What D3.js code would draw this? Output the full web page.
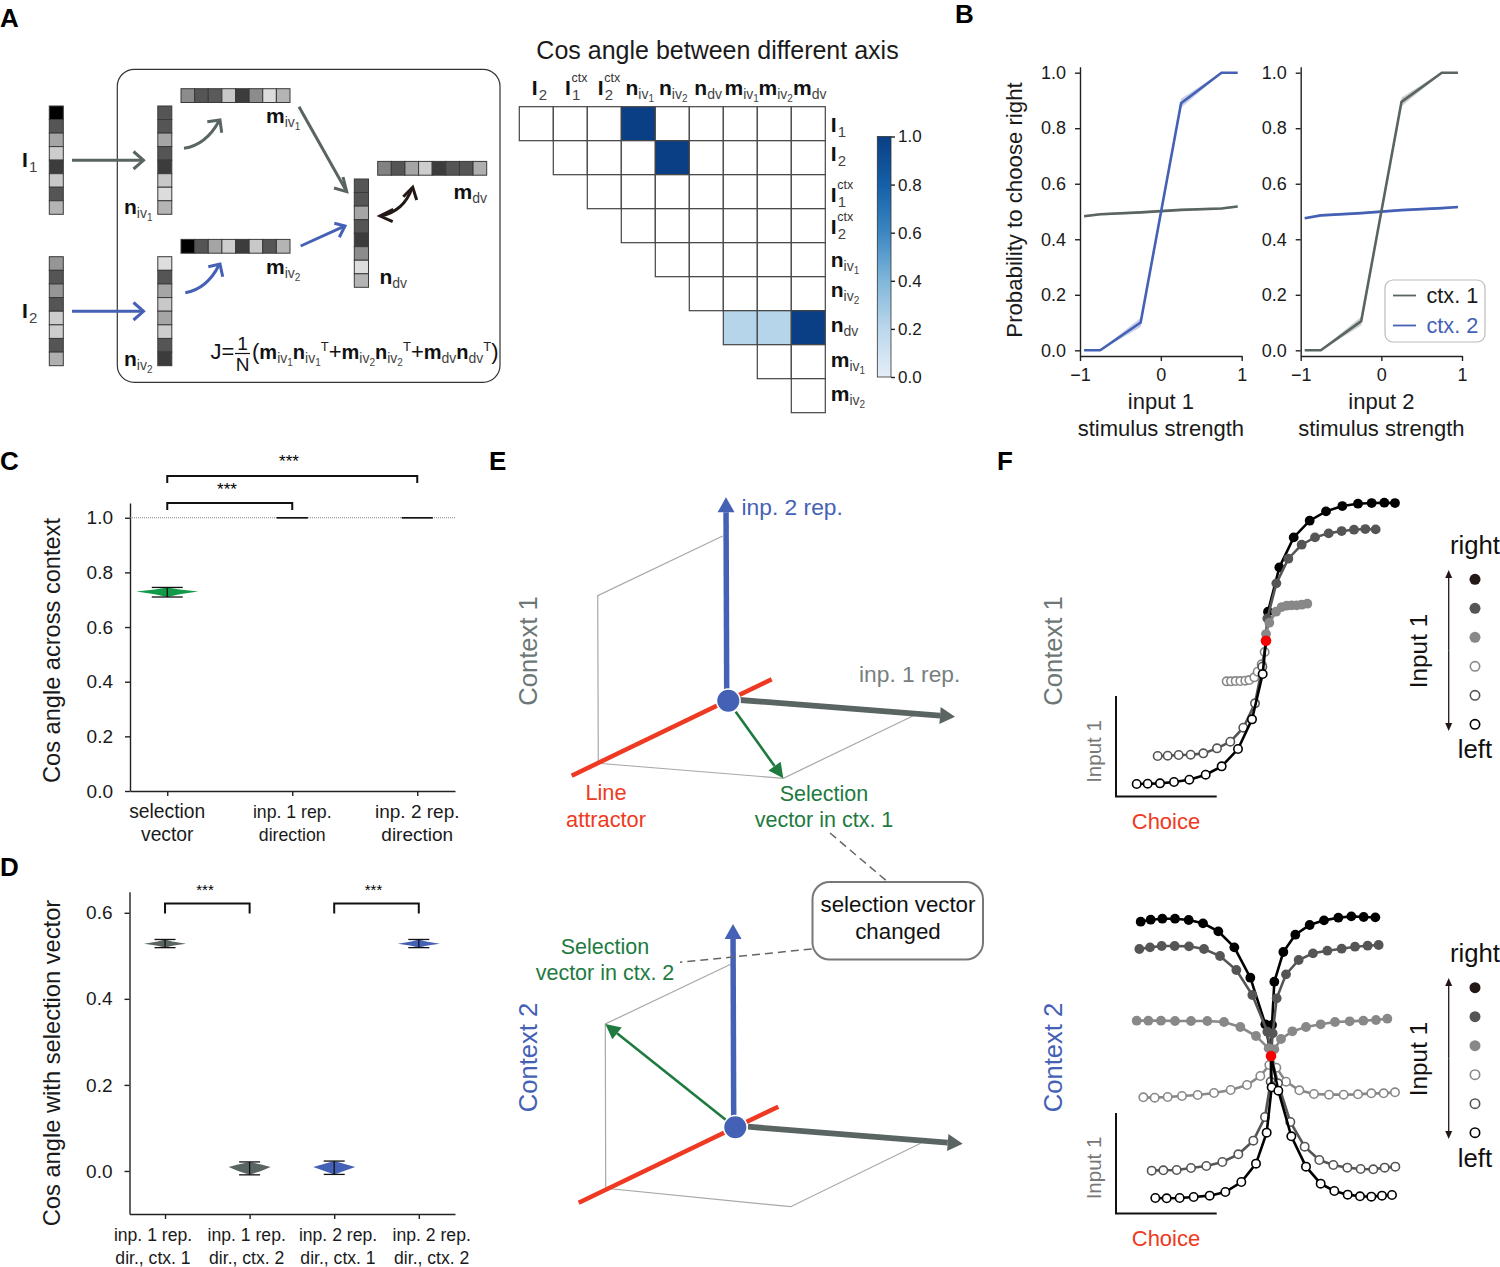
<!DOCTYPE html>
<html>
<head>
<meta charset="utf-8">
<script src="https://cdn.jsdelivr.net/npm/d3@7"></script>
<style>
body { margin: 0; background: #fff; }
svg { display: block; }
text { font-family: "Liberation Sans", Arial, sans-serif; fill: #1a1a1a; }
</style>
</head>
<body>
<div id="fig"></div>
<script>
/***** data *****/

// panel A - gray levels of the connectivity vectors
var stripI1   = [0, 85, 165, 205, 60, 200, 85, 180];
var stripI2   = [150, 85, 150, 85, 205, 205, 85, 175];
var stripNiv1 = [85, 85, 165, 85, 60, 200, 220, 180];
var stripNiv2 = [222, 85, 165, 200, 165, 205, 85, 60];
var stripMiv1 = [140, 85, 90, 200, 60, 140, 220, 180];
var stripMiv2 = [0, 85, 165, 205, 60, 200, 85, 180];
var stripMdv  = [130, 85, 165, 205, 60, 85, 85, 175];
var stripNdv  = [85, 85, 165, 85, 60, 140, 220, 180];

// heatmap, upper triangle, null = no cell
var heatValues = [
  [0, 0, 0, 1, 0, 0, 0, 0, 0],
  [null, 0, 0, 0, 1, 0, 0, 0, 0],
  [null, null, 0, 0, 0, 0, 0, 0, 0],
  [null, null, null, 0, 0, 0, 0, 0, 0],
  [null, null, null, null, 0, 0, 0, 0, 0],
  [null, null, null, null, null, 0, 0, 0, 0],
  [null, null, null, null, null, null, 0.22, 0.22, 1],
  [null, null, null, null, null, null, null, 0, 0],
  [null, null, null, null, null, null, null, null, 0]
];
var colorbarTicks = [0, 0.2, 0.4, 0.6, 0.8, 1];

// panel B
var stimulus = [-0.95, -0.75, -0.25, 0.25, 0.75, 0.95];
var input1Ctx1 = [0.483, 0.490, 0.497, 0.506, 0.511, 0.518];
var input1Ctx2 = [0, 0, 0.10, 0.89, 1, 1];
var input2Ctx1 = [0, 0, 0.105, 0.895, 1, 1];
var input2Ctx2 = [0.476, 0.486, 0.494, 0.505, 0.512, 0.516];
var bandSteep = [0.002, 0.002, 0.016, 0.016, 0.002, 0.002];
var bandFlat = [0.004, 0.004, 0.004, 0.004, 0.004, 0.004];
var probTicks = [0, 0.2, 0.4, 0.6, 0.8, 1];
var stimTicks = [-1, 0, 1];

// panel C
var cCats = [["selection", "vector"], ["inp. 1 rep.", "direction"], ["inp. 2 rep.", "direction"]];
var cMean = [0.73, 1, 1];
var cLow = [0.71, 1, 1];
var cHigh = [0.745, 1, 1];
var cTicks = [0, 0.2, 0.4, 0.6, 0.8, 1];

// panel D
var dCats = [["inp. 1 rep.", "dir., ctx. 1"], ["inp. 1 rep.", "dir., ctx. 2"], ["inp. 2 rep.", "dir., ctx. 1"], ["inp. 2 rep.", "dir., ctx. 2"]];
var dMean = [0.528, 0.009, 0.009, 0.528];
var dLow = [0.519, -0.009, -0.008, 0.519];
var dHigh = [0.538, 0.021, 0.023, 0.538];
var dTicks = [0, 0.2, 0.4, 0.6];

// panel F - [choice, input 1] state space, fixed point at 0,0
var c1Black = [[3.87,4.13],[3.55,4.14],[3.17,4.13],[2.76,4.11],[2.29,4.04],[1.80,3.88],[1.31,3.60],[0.83,3.10],[0.40,2.20],[0.06,0.87],[0,0]];
var c1Dark = [[3.29,3.34],[2.98,3.35],[2.64,3.33],[2.27,3.29],[1.88,3.22],[1.47,3.10],[1.07,2.88],[0.67,2.46],[0.31,1.72],[0.04,0.67],[0,0]];
var c1Mid = [[1.24,1.11],[1.07,1.08],[0.92,1.06],[0.77,1.06],[0.62,1.05],[0.47,1.01],[0.30,0.87],[0.10,0.54],[0,0.20],[0,0]];
var c1Light = [[-1.18,-1.22],[-1.05,-1.22],[-0.91,-1.21],[-0.77,-1.21],[-0.62,-1.20],[-0.50,-1.18],[-0.35,-1.10],[-0.25,-0.93],[-0.13,-0.71],[-0.04,-0.34],[0,0]];
var c1DarkOpen = [[-3.25,-3.46],[-2.95,-3.45],[-2.62,-3.43],[-2.26,-3.42],[-1.88,-3.38],[-1.47,-3.23],[-1.07,-3.03],[-0.68,-2.61],[-0.33,-1.88],[-0.11,-0.78],[0,0]];
var c1BlackOpen = [[-3.88,-4.30],[-3.55,-4.29],[-3.18,-4.28],[-2.76,-4.24],[-2.30,-4.17],[-1.81,-4.02],[-1.33,-3.77],[-0.84,-3.25],[-0.42,-2.36],[-0.10,-1.00],[0,0]];

var c2BlackL = [[-3.91,4.03],[-3.61,4.09],[-3.26,4.12],[-2.88,4.12],[-2.47,4.08],[-2.04,3.98],[-1.58,3.74],[-1.10,3.26],[-0.62,2.35],[-0.17,0.95],[0,0]];
var c2BlackR = [[3.13,4.16],[2.78,4.17],[2.41,4.19],[2.02,4.15],[1.59,4.07],[1.16,3.93],[0.73,3.64],[0.37,3.12],[0.10,2.23],[0.03,0.93],[0,0]];
var c2DarkL = [[-3.95,3.21],[-3.63,3.26],[-3.28,3.30],[-2.89,3.30],[-2.46,3.29],[-2.01,3.21],[-1.53,3.00],[-1.04,2.58],[-0.56,1.83],[-0.11,0.73],[0,0]];
var c2DarkR = [[3.23,3.33],[2.90,3.31],[2.52,3.28],[2.12,3.22],[1.69,3.16],[1.26,3.08],[0.83,2.88],[0.45,2.45],[0.17,1.73],[0.05,0.68],[0,0]];
var c2MidL = [[-4.03,1.06],[-3.68,1.06],[-3.30,1.06],[-2.88,1.05],[-2.40,1.05],[-1.91,1.05],[-1.41,1.02],[-0.92,0.87],[-0.45,0.60],[-0.07,0.23],[0,0]];
var c2MidR = [[3.49,1.12],[3.15,1.08],[2.77,1.06],[2.36,1.04],[1.92,1.02],[1.49,0.95],[1.05,0.87],[0.64,0.74],[0.30,0.51],[0.10,0.20],[0,0]];
var c2LightL = [[-3.83,-1.24],[-3.49,-1.25],[-3.10,-1.23],[-2.67,-1.20],[-2.20,-1.17],[-1.71,-1.11],[-1.21,-1.02],[-0.72,-0.87],[-0.32,-0.60],[-0.05,-0.27],[0,0]];
var c2LightR = [[3.72,-1.09],[3.38,-1.12],[3.01,-1.12],[2.61,-1.15],[2.18,-1.16],[1.74,-1.16],[1.29,-1.14],[0.85,-1.03],[0.45,-0.77],[0.16,-0.35],[0,0]];
var c2DarkOpenL = [[-3.58,-3.44],[-3.23,-3.43],[-2.83,-3.42],[-2.40,-3.36],[-1.94,-3.30],[-1.46,-3.18],[-0.98,-2.95],[-0.53,-2.54],[-0.18,-1.83],[-0.01,-0.77],[0,0]];
var c2DarkOpenR = [[3.73,-3.32],[3.41,-3.35],[3.07,-3.40],[2.69,-3.39],[2.29,-3.35],[1.87,-3.27],[1.45,-3.12],[1.01,-2.72],[0.58,-1.98],[0.21,-0.82],[0,0]];
var c2BlackOpenL = [[-3.47,-4.26],[-3.13,-4.27],[-2.74,-4.26],[-2.32,-4.23],[-1.84,-4.19],[-1.37,-4.08],[-0.89,-3.78],[-0.45,-3.23],[-0.13,-2.30],[0.02,-0.94],[0,0]];
var c2BlackOpenR = [[3.63,-4.17],[3.33,-4.19],[3.01,-4.22],[2.67,-4.21],[2.30,-4.16],[1.90,-4.05],[1.49,-3.83],[1.05,-3.32],[0.61,-2.41],[0.22,-1.04],[0,0]];

/***** colours *****/
var BLUE = "#4561b5", SLATE = "#5a6563", GREEN = "#1e7a3e", RED = "#ee3a22";
var FONT_DARK = "#1a1a1a";

var svg = d3.select("#fig").append("svg").attr("width", 1500).attr("height", 1267);

/***** helpers *****/
function txt(x, y, s, size, color, anchor, weight) {
  return svg.append("text").attr("x", x).attr("y", y).text(s)
    .style("font-size", size + "px")
    .style("fill", color || FONT_DARK)
    .attr("text-anchor", anchor || "start")
    .style("font-weight", weight || "normal");
}
function vtxt(x, y, s, size, color) {
  return txt(0, 0, s, size, color, "middle")
    .attr("transform", "translate(" + x + "," + y + ") rotate(-90)");
}
// segs: [text, kind]; kinds b=bold, s=sub, ss=sub of sub, t=superscript, r=regular
var kinds = {
  b: { size: 21, weight: "bold", off: 0, color: "#111" },
  f: { size: 20, weight: "bold", off: 0, color: "#111" },
  s: { size: 14, weight: "normal", off: 4, color: "#444" },
  ss: { size: 10, weight: "normal", off: 7, color: "#444" },
  t: { size: 13, weight: "normal", off: -8, color: "#222" },
  r: { size: 22, weight: "normal", off: 0, color: "#111" }
};
function rich(x, y, segs) {
  var t = svg.append("text").attr("x", x).attr("y", y);
  var cur = 0;
  segs.forEach(function (sg) {
    var k = kinds[sg[1]];
    t.append("tspan").text(sg[0]).attr("dy", k.off - cur)
      .style("font-size", k.size + "px").style("font-weight", k.weight).style("fill", k.color);
    cur = k.off;
  });
  return t;
}
function symIv(x, y, letter, n) { rich(x, y, [[letter, "b"], ["iv", "s"], [n, "ss"]]); }
function symDv(x, y, letter) { rich(x, y, [[letter, "b"], ["dv", "s"]]); }
function symI(x, y, n) { rich(x, y, [["I", "b"]]); txt(x + 7, y + 5, n, 15, "#444"); }
function symIctx(x, y, n) {
  symI(x, y, n);
  txt(x + 6.5, y - 13, "ctx", 12.5, "#333");
}

var grayScale = d3.scaleLinear().domain([0, 255]).range(["#000", "#fff"]);
function strip(x, y, w, h, vals, vertical) {
  var n = vals.length;
  var pos = d3.scaleBand().domain(d3.range(n)).range(vertical ? [y, y + h] : [x, x + w]);
  svg.append("g").selectAll("rect").data(vals).enter().append("rect")
    .attr("x", function (d, i) { return vertical ? x : pos(i); })
    .attr("y", function (d, i) { return vertical ? pos(i) : y; })
    .attr("width", vertical ? w : pos.bandwidth())
    .attr("height", vertical ? pos.bandwidth() : h)
    .attr("fill", function (d) { return grayScale(d); })
    .attr("stroke", "#3a3a3a").attr("stroke-width", 1);
}
var lineGen = d3.line();
function poly(pts, color, width, dash) {
  var p = svg.append("path").attr("d", lineGen(pts)).attr("fill", "none")
    .attr("stroke", color).attr("stroke-width", width);
  if (dash) { p.attr("stroke-dasharray", dash); }
  return p;
}
function curve(d, color, width) {
  svg.append("path").attr("d", d).attr("fill", "none").attr("stroke", color).attr("stroke-width", width);
}
// straight arrow with a filled head
function arrow(a, b, width, headL, headW, color) {
  var ang = Math.atan2(b[1] - a[1], b[0] - a[0]);
  var base = [b[0] - headL * Math.cos(ang), b[1] - headL * Math.sin(ang)];
  poly([a, base], color, width);
  var nx = -Math.sin(ang) * headW / 2, ny = Math.cos(ang) * headW / 2;
  svg.append("path").attr("fill", color)
    .attr("d", lineGen([b, [base[0] + nx, base[1] + ny], [base[0] - nx, base[1] - ny]]) + "Z");
}
function styleAxis(g, size) {
  g.selectAll("path,line").attr("stroke", "#222").attr("stroke-width", 1.4);
  g.selectAll("text").style("font-size", (size || 18) + "px").style("fill", FONT_DARK)
    .style("font-family", '"Liberation Sans", Arial, sans-serif');
}
function yAxis(y, x0, ticks, size, pad) {
  var g = svg.append("g").attr("transform", "translate(" + x0 + ",0)")
    .call(d3.axisLeft(y).tickValues(ticks).tickSize(5).tickSizeOuter(0).tickPadding(pad).tickFormat(d3.format(".1f")));
  styleAxis(g, size);
}
// category labels sit at their own centres, in panel D they drift from the ticks
function xAxisCats(x, y0, cats, sizes, dy1, dy2, centres) {
  var g = svg.append("g").attr("transform", "translate(0," + y0 + ")")
    .call(d3.axisBottom(x).tickValues(d3.range(cats.length)).tickSize(5).tickSizeOuter(0).tickFormat(""));
  styleAxis(g);
  cats.forEach(function (c, i) {
    var cx = centres ? centres[i] : x(i);
    txt(cx, y0 + dy1, c[0], sizes[i], FONT_DARK, "middle");
    txt(cx, y0 + dy2, c[1], sizes[i], FONT_DARK, "middle");
  });
}
// violin: leaf shape between low and high, fattest at the mean
function violin(xc, y, low, mean, high, halfW, color, capW, fat) {
  var w = d3.scaleLinear().domain([0, 1]).range([0, halfW]);
  var prof = [[low, 0], [(low + mean) / 2, fat], [mean, 1], [(mean + high) / 2, fat], [high, 0]];
  if (high > low) {
    svg.append("path").attr("fill", color).attr("d", d3.area()
      .y(function (d) { return y(d[0]); })
      .x0(function (d) { return xc - w(d[1]); })
      .x1(function (d) { return xc + w(d[1]); })(prof));
  }
  poly([[xc, y(low)], [xc, y(high)]], "#111", 1.3);
  poly([[xc - capW, y(low)], [xc + capW, y(low)]], "#111", 1.3);
  poly([[xc - capW, y(high)], [xc + capW, y(high)]], "#111", 1.3);
}
function bracket(x0, x1, yTop, yEnd, starX, starY, size) {
  poly([[x0, yEnd], [x0, yTop], [x1, yTop], [x1, yEnd]], "#111", 2);
  txt(starX, starY, "***", size, "#000", "middle");
}

/***** panel letters *****/
[["A", 0, 27], ["B", 955, 23], ["C", 0, 470], ["D", 0, 876], ["E", 489, 470], ["F", 997, 470]].forEach(function (l) {
  txt(l[1], l[2], l[0], 26, "#000", "start", "bold");
});

/***** panel A - network sketch *****/
svg.append("rect").attr("x", 117.3).attr("y", 69.3).attr("width", 382.7).attr("height", 313)
  .attr("rx", 17).attr("fill", "none").attr("stroke", "#333").attr("stroke-width", 1.2);

strip(49.3, 106, 14, 108.3, stripI1, true);
strip(49.3, 256.7, 14, 109, stripI2, true);
strip(157.8, 106, 14, 108.3, stripNiv1, true);
strip(157.8, 256.7, 14, 109, stripNiv2, true);
strip(181, 88.7, 109, 13.8, stripMiv1, false);
strip(181, 239.4, 109, 13.8, stripMiv2, false);
strip(377.7, 161.4, 109, 13.8, stripMdv, false);
strip(354.3, 179, 14.2, 108.3, stripNdv, true);

symI(22, 166.5, "1");
symI(22, 317.5, "2");
symIv(124, 214, "n", "1");
symIv(124, 366, "n", "2");
symIv(266, 122.7, "m", "1");
symIv(266, 274, "m", "2");
symDv(453.5, 199.3, "m");
symDv(379.5, 284, "n");

poly([[72, 160.3], [143, 160.3]], SLATE, 3);
poly([[133.5, 151.5], [143.5, 160.3], [133.5, 169]], SLATE, 3);
poly([[72, 311.3], [143, 311.3]], BLUE, 3);
poly([[133.5, 302.5], [143.5, 311.3], [133.5, 320]], BLUE, 3);
curve("M184,148.3 Q206,145 219,121", SLATE, 3);
poly([[207.3, 121.7], [220, 120], [221.7, 132.7]], SLATE, 3);
curve("M185.3,292.7 Q207,289 219,265", BLUE, 3);
poly([[208.3, 266.7], [220, 264], [222.7, 276.7]], BLUE, 3);
poly([[299, 106.7], [346.2, 190.8]], SLATE, 3);
poly([[334, 188], [346.7, 191.7], [343, 177]], SLATE, 3);
poly([[300.7, 246], [344.5, 226.2]], BLUE, 3);
poly([[334.3, 223.3], [345, 226], [339.3, 237.3]], BLUE, 3);
curve("M381,216 Q404,211 412,188", "#231815", 3);
poly([[393.3, 209.3], [380, 216], [392.7, 221.7]], "#231815", 3);
poly([[403.3, 196.7], [412.7, 187.3], [416.7, 200]], "#231815", 3);

// J = 1/N (...)
txt(210.5, 358.5, "J=", 22, "#111");
txt(242.5, 349.5, "1", 19, "#111", "middle");
poly([[235, 353.5], [250, 353.5]], "#111", 1.2);
txt(242.5, 370.5, "N", 19, "#111", "middle");
rich(252, 358.5, [["(", "r"], ["m", "f"], ["iv", "s"], ["1", "ss"], ["n", "f"], ["iv", "s"], ["1", "ss"], ["T", "t"],
  ["+", "r"], ["m", "f"], ["iv", "s"], ["2", "ss"], ["n", "f"], ["iv", "s"], ["2", "ss"], ["T", "t"],
  ["+", "r"], ["m", "f"], ["dv", "s"], ["n", "f"], ["dv", "s"], ["T", "t"], [")", "r"]]);

/***** panel A - heatmap *****/
txt(717.5, 59, "Cos angle between different axis", 25, FONT_DARK, "middle");

var heatColor = d3.scaleLinear().domain([0, 0.2, 0.4, 0.6, 0.8, 1])
  .range(["#e4eef9", "#bcd7ec", "#7fb7da", "#3c87c2", "#1460a8", "#0a3f85"]);
var hx = d3.scaleBand().domain(d3.range(9)).range([519.3, 825.3]);
var hy = d3.scaleBand().domain(d3.range(9)).range([106.7, 412.7]);

var heatCells = [];
heatValues.forEach(function (row, r) {
  row.forEach(function (v, c) { if (v !== null) { heatCells.push({ r: r, c: c, v: v }); } });
});
svg.append("g").selectAll("rect").data(heatCells).enter().append("rect")
  .attr("x", function (d) { return hx(d.c); })
  .attr("y", function (d) { return hy(d.r); })
  .attr("width", hx.bandwidth())
  .attr("height", hy.bandwidth())
  .attr("fill", function (d) { return d.v === 0 ? "#fff" : heatColor(d.v); })
  .attr("stroke", "#444").attr("stroke-width", 1.2);

// column labels
symI(531.7, 95, "2");
symIctx(565, 95, "1");
symIctx(597.7, 95, "2");
symIv(625.5, 95, "n", "1");
symIv(659, 95, "n", "2");
symDv(694.3, 95, "n");
symIv(724.5, 95, "m", "1");
symIv(758.5, 95, "m", "2");
symDv(793, 95, "m");
// row labels
symI(830.7, 131.5, "1");
symI(830.7, 161, "2");
symIctx(830.7, 202, "1");
symIctx(830.7, 234, "2");
symIv(830.7, 267, "n", "1");
symIv(830.7, 297, "n", "2");
symDv(830.7, 332, "n");
symIv(830.7, 367, "m", "1");
symIv(830.7, 400.7, "m", "2");

// colorbar
var cbY = d3.scaleLinear().domain([0, 1]).range([377, 136.5]);
var grad = svg.append("defs").append("linearGradient").attr("id", "cbGrad")
  .attr("x1", 0).attr("x2", 0).attr("y1", 1).attr("y2", 0);
heatColor.domain().forEach(function (d) {
  grad.append("stop").attr("offset", d).attr("stop-color", heatColor(d));
});
svg.append("rect").attr("x", 877.3).attr("y", cbY(1)).attr("width", 13.7).attr("height", cbY(0) - cbY(1))
  .attr("fill", "url(#cbGrad)").attr("stroke", "#333").attr("stroke-width", 0.8);
var cbG = svg.append("g").attr("transform", "translate(891,0)")
  .call(d3.axisRight(cbY).tickValues(colorbarTicks).tickSize(4).tickSizeOuter(0).tickPadding(3).tickFormat(d3.format(".1f")));
styleAxis(cbG, 17);
cbG.select(".domain").remove();

/***** panel B *****/
function psychometric(x0, x1, steep, flat, steepCol, flatCol, xLab) {
  var x = d3.scaleLinear().domain([-1, 1]).range([x0, x1]);
  var y = d3.scaleLinear().domain([-0.0205, 1.0216]).range([356, 66.7]);
  var g = svg.append("g").attr("transform", "translate(0,356)")
    .call(d3.axisBottom(x).tickValues(stimTicks).tickSize(5).tickSizeOuter(0).tickPadding(7).tickFormat(d3.format("d")));
  styleAxis(g);
  yAxis(y, x0, probTicks, 18, 9);
  var line = d3.line().x(function (d, i) { return x(stimulus[i]); }).y(function (d) { return y(d); });
  function band(vals, sd, color) {
    svg.append("path").attr("fill", color).attr("opacity", 0.3).attr("d", d3.area()
      .x(function (d, i) { return x(stimulus[i]); })
      .y0(function (d, i) { return y(d - sd[i]); })
      .y1(function (d, i) { return y(d + sd[i]); })(vals));
    svg.append("path").attr("d", line(vals)).attr("fill", "none").attr("stroke", color).attr("stroke-width", 2.6);
  }
  band(flat, bandFlat, flatCol);
  band(steep, bandSteep, steepCol);
  txt((x0 + x1) / 2, 408.5, xLab, 22, FONT_DARK, "middle");
  txt((x0 + x1) / 2, 435.5, "stimulus strength", 22, FONT_DARK, "middle");
}
psychometric(1080, 1241.7, input1Ctx2, input1Ctx1, BLUE, SLATE, "input 1");
psychometric(1300.7, 1462, input2Ctx1, input2Ctx2, SLATE, BLUE, "input 2");
vtxt(1021.5, 210, "Probability to choose right", 22.2, FONT_DARK);

svg.append("rect").attr("x", 1385).attr("y", 280).attr("width", 100).attr("height", 62).attr("rx", 8)
  .attr("fill", "#fff").attr("fill-opacity", 0.85).attr("stroke", "#bbb").attr("stroke-width", 1.2);
poly([[1393, 295.5], [1416, 295.5]], SLATE, 1.8);
poly([[1393, 325.5], [1416, 325.5]], BLUE, 1.8);
txt(1426.5, 303, "ctx. 1", 21.7, FONT_DARK);
txt(1426.5, 333, "ctx. 2", 21.7, BLUE);

/***** panel C *****/
var cY = d3.scaleLinear().domain([0, 1.054]).range([791, 503]);
var cX = d3.scaleLinear().domain([-0.298, 2.302]).range([130, 455]);
yAxis(cY, 130, cTicks, 19, 12);
xAxisCats(cX, cY(0), cCats, [19.3, 17.7, 19], 27, 50);
poly([[130, cY(1)], [455, cY(1)]], "#777", 0.9, "1,1");
vtxt(60, 650.5, "Cos angle across context", 23.6, FONT_DARK);
cCats.forEach(function (c, i) {
  violin(cX(i), cY, cLow[i], cMean[i], cHigh[i], 31, "#119a47", 15.5, 0.4);
});
bracket(cX(0), cX(2), 476, 483, 289, 467, 17);
bracket(cX(0), cX(1), 503, 510, 227, 495, 17);

/***** panel D *****/
var dY = d3.scaleLinear().domain([-0.1, 0.649]).range([1214, 891.7]);
var dX = d3.scaleLinear().domain([-0.42, 3.428]).range([129.5, 455]);
yAxis(dY, 129.5, dTicks, 19, 12);
xAxisCats(dX, 1214, dCats, [17.6, 17.6, 17.6, 17.6], 27, 50, [153, 246.7, 338, 431.7]);
vtxt(60, 1063, "Cos angle with selection vector", 23.7, FONT_DARK);
var dColors = [SLATE, SLATE, BLUE, BLUE];
var dFat = [0.35, 0.55, 0.5, 0.35];
dCats.forEach(function (c, i) {
  violin(dX(i), dY, dLow[i], dMean[i], dHigh[i], 21, dColors[i], 10.5, dFat[i]);
});
bracket(dX(0), dX(1), 903.5, 913.5, 205, 895, 15);
bracket(dX(2), dX(3), 903.5, 913.5, 373.5, 895, 15);

/***** panel E *****/
var axesTop = {
  frame: [[722.7, 536], [597.7, 595.7], [598.3, 763.3], [783.3, 778.3], [913.3, 715.7]],
  attractor: [[571.7, 775.7], [771.7, 679.3]],
  inp2: [[726.7, 692], [726, 497.3]],
  inp1: [[740, 700], [955, 716.7]],
  sel: [[735.7, 711.7], [783.3, 778.3]],
  center: [728.3, 700.7]
};
var axesBot = {
  frame: [[730.7, 964.3], [605.3, 1024], [605.7, 1188.3], [790.7, 1206.7], [920.7, 1143.3]],
  attractor: [[578.7, 1202.7], [778.3, 1106.7]],
  inp2: [[733.7, 1117], [733, 924]],
  inp1: [[748, 1126.7], [962.7, 1143.7]],
  sel: [[726, 1120], [605.3, 1024]],
  center: [735.3, 1127.3]
};
function stateAxes(a) {
  poly(a.frame, "#a8a8a8", 1.2);
  poly(a.attractor, RED, 4.5);
  arrow(a.inp2[0], a.inp2[1], 5.5, 15, 17, BLUE);
  arrow(a.inp1[0], a.inp1[1], 5.8, 15, 17, SLATE);
  arrow(a.sel[0], a.sel[1], 2.6, 15, 15, GREEN);
  svg.append("circle").attr("cx", a.center[0]).attr("cy", a.center[1]).attr("r", 11.8)
    .attr("fill", BLUE).attr("stroke", "#fff").attr("stroke-width", 1.5);
}
stateAxes(axesTop);
stateAxes(axesBot);

txt(741.5, 514.5, "inp. 2 rep.", 22.8, BLUE);
txt(859, 682, "inp. 1 rep.", 22.8, "#77807e");
txt(606, 800, "Line", 21.8, RED, "middle");
txt(606, 826.5, "attractor", 21.8, RED, "middle");
txt(824, 800.5, "Selection", 21.5, GREEN, "middle");
txt(824, 826.5, "vector in ctx. 1", 21.5, GREEN, "middle");
txt(605, 953.5, "Selection", 21.5, GREEN, "middle");
txt(605, 979.5, "vector in ctx. 2", 21.5, GREEN, "middle");
vtxt(537, 651, "Context 1", 25.6, "#6d7775");
vtxt(537, 1057.5, "Context 2", 25.6, BLUE);

poly([[830, 833], [886.7, 881]], "#666", 1.5, "8,5");
poly([[811.7, 949], [680, 962.3]], "#666", 1.5, "8,5");
svg.append("rect").attr("x", 812.5).attr("y", 882).attr("width", 170.5).attr("height", 77.5).attr("rx", 17)
  .attr("fill", "#fff").attr("stroke", "#777").attr("stroke-width", 2);
txt(898, 912, "selection vector", 22.3, "#111", "middle");
txt(898, 938.5, "changed", 22.3, "#111", "middle");

/***** panel F *****/
function trajectories(cx, cy, traces) {
  var x = d3.scaleLinear().domain([-1, 1]).range([cx - 33.33, cx + 33.33]);
  var y = d3.scaleLinear().domain([-1, 1]).range([cy + 33.33, cy - 33.33]);
  var line = d3.line().x(function (d) { return x(d[0]); }).y(function (d) { return y(d[1]); });
  traces.forEach(function (t) {
    var g = svg.append("g");
    g.append("path").attr("d", line(t.pts)).attr("fill", "none").attr("stroke", t.color).attr("stroke-width", 2.6);
    g.selectAll("circle").data(t.pts.slice(0, -1)).enter().append("circle")
      .attr("cx", function (d) { return x(d[0]); })
      .attr("cy", function (d) { return y(d[1]); })
      .attr("r", t.open ? 4.2 : 4.9)
      .attr("fill", t.open ? "#fff" : t.color)
      .attr("stroke", t.open ? t.color : "none")
      .attr("stroke-width", 1.6);
  });
  svg.append("circle").attr("cx", x(0)).attr("cy", y(0)).attr("r", 5.3).attr("fill", "#f60000");
}
var INK = "#000", DARK = "#555", MID = "#888";
trajectories(1266, 640.7, [
  { pts: c1Black, color: INK },
  { pts: c1Dark, color: DARK },
  { pts: c1Mid, color: MID },
  { pts: c1Light, color: MID, open: true },
  { pts: c1DarkOpen, color: DARK, open: true },
  { pts: c1BlackOpen, color: INK, open: true }
]);
trajectories(1271, 1056, [
  { pts: c2BlackL, color: INK },
  { pts: c2BlackR, color: INK },
  { pts: c2DarkL, color: DARK },
  { pts: c2DarkR, color: DARK },
  { pts: c2MidL, color: MID },
  { pts: c2MidR, color: MID },
  { pts: c2LightL, color: MID, open: true },
  { pts: c2LightR, color: MID, open: true },
  { pts: c2DarkOpenL, color: DARK, open: true },
  { pts: c2DarkOpenR, color: DARK, open: true },
  { pts: c2BlackOpenL, color: INK, open: true },
  { pts: c2BlackOpenR, color: INK, open: true }
]);

var keyStyles = [
  { color: "#231815" }, { color: DARK }, { color: MID },
  { color: MID, open: true }, { color: DARK, open: true }, { color: INK, open: true }
];
function keyColumn(y0, arrowTop, arrowBot, rightY, leftY, midY) {
  var ky = d3.scalePoint().domain(d3.range(6)).range([y0, y0 + 145]);
  svg.append("g").selectAll("circle").data(keyStyles).enter().append("circle")
    .attr("cx", 1475)
    .attr("cy", function (d, i) { return ky(i); })
    .attr("r", function (d) { return d.open ? 4.7 : 5.5; })
    .attr("fill", function (d) { return d.open ? "#fff" : d.color; })
    .attr("stroke", function (d) { return d.open ? d.color : "none"; })
    .attr("stroke-width", 1.6);
  arrow([1448.7, (arrowTop + arrowBot) / 2], [1448.7, arrowTop], 1.3, 8, 7, "#231815");
  arrow([1448.7, (arrowTop + arrowBot) / 2], [1448.7, arrowBot], 1.3, 8, 7, "#231815");
  txt(1475, rightY, "right", 25.7, "#111", "middle");
  txt(1475, leftY, "left", 25.7, "#111", "middle");
  vtxt(1427, midY, "Input 1", 24.3, "#111");
}
keyColumn(579.3, 570, 731, 554, 758, 651);
keyColumn(987.7, 978, 1139, 962, 1167, 1059);

function miniAxes(top, corner, inputY, choiceY) {
  poly([[1116, top], [1116, corner], [1216.7, corner]], "#111", 2);
  vtxt(1101, inputY, "Input 1", 20.5, "#777");
  txt(1166, choiceY, "Choice", 22, RED, "middle");
}
miniAxes(696, 796.5, 751.5, 829);
miniAxes(1113, 1213.5, 1168, 1246);

vtxt(1062, 651, "Context 1", 25.6, "#6d7775");
vtxt(1062, 1057.5, "Context 2", 25.6, BLUE);
</script>
</body>
</html>
